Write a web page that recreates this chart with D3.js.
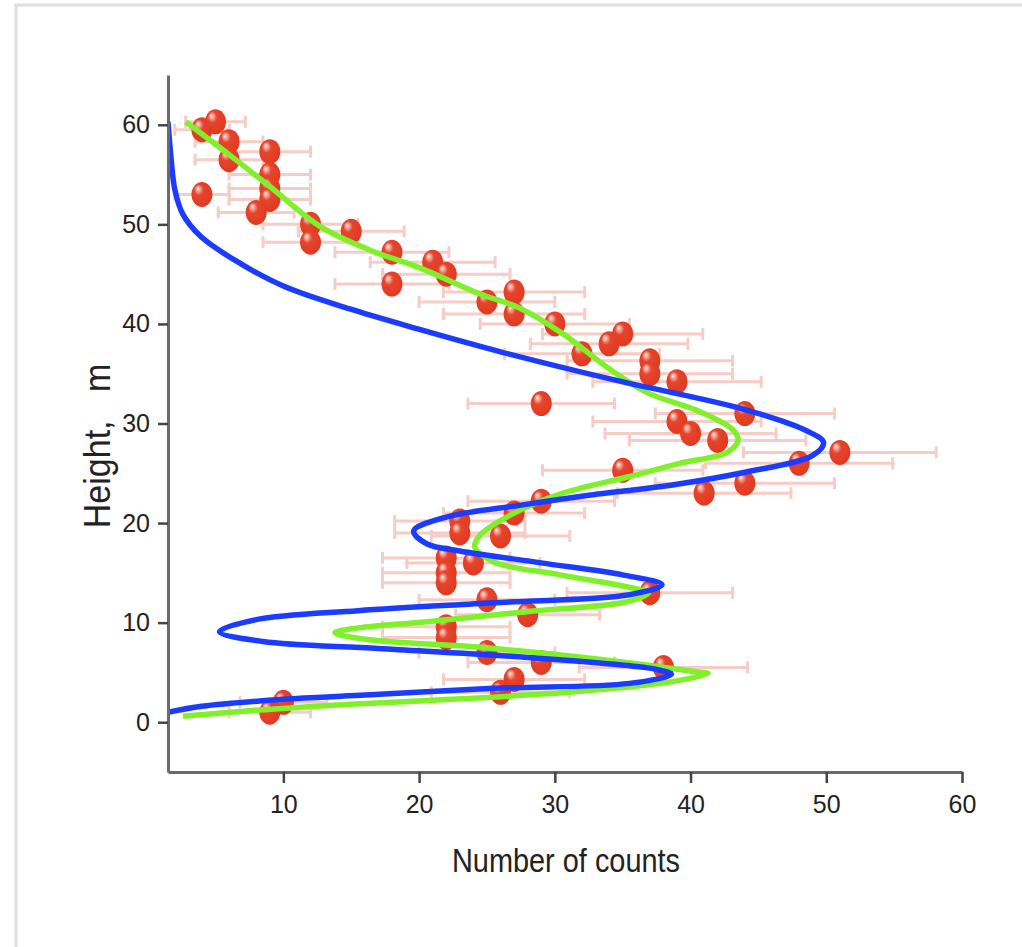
<!DOCTYPE html>
<html>
<head>
<meta charset="utf-8">
<script src="https://cdn.jsdelivr.net/npm/d3@7"></script>
<style>
  body { margin: 0; background: #fff; }
  text { font-family: "Liberation Sans", Arial, sans-serif; fill: #222; }
</style>
</head>
<body>
<script>
let w = 1022;
let h = 947;

// measured counts (x) at each height (y), with horizontal error
const counts = [4, 5, 6, 6, 9, 9, 9, 9, 4, 8, 12, 12, 15, 18, 18, 21, 22, 25, 27, 27,
  30, 32, 34, 35, 37, 37, 39, 29, 44, 39, 40, 42, 51, 48, 35, 44, 41, 29, 27, 23,
  23, 26, 22, 22, 22, 24, 25, 28, 37, 22, 22, 25, 29, 38, 27, 26, 9, 10];
const heights = [59.5, 60.3, 58.3, 56.5, 57.3, 55, 53.6, 52.5, 53, 51.2, 50, 48.2, 49.3, 47.2, 44, 46.2, 45, 42.2, 43.2, 41,
  40, 37, 38, 39, 36.3, 35, 34.2, 32, 31, 30.2, 29, 28.3, 27.1, 26, 25.3, 24, 23, 22.2, 21, 20.2,
  19, 18.7, 16.5, 15, 14, 16, 12.3, 10.8, 13, 9.6, 8.5, 7, 6, 5.5, 4.3, 3, 1, 2];
const errs = [2, 2.2, 2.5, 2.5, 3, 3, 3, 3, 2, 2.8, 3.5, 3.5, 3.9, 4.2, 4.2, 4.6, 4.7, 5, 5.2, 5.2,
  5.5, 5.7, 5.8, 5.9, 6.1, 6.1, 6.2, 5.4, 6.6, 6.2, 6.3, 6.5, 7.1, 6.9, 5.9, 6.6, 6.4, 5.4, 5.2, 4.8,
  4.8, 5.1, 4.7, 4.7, 4.7, 4.9, 5, 5.3, 6.1, 4.7, 4.7, 5, 5.4, 6.2, 5.2, 5.1, 3, 3.2];

// blue model curve [counts, height]
const blueFit = [[1.5, 60.3], [1.7, 57], [2, 53.5], [2.6, 51], [3.9, 48.8], [6.3, 46.5], [10, 43.8],
  [14.9, 41.5], [19.9, 39.5], [26, 37.2], [34.3, 34.4], [44, 31.4], [48.5, 29.3], [49.8, 28.1],
  [49, 26.8], [44, 25.1], [39, 23.9], [32, 22.7], [27.5, 21.8], [22, 20.6], [19.6, 19.2],
  [20.6, 17.9], [23, 17.2], [29, 16], [35, 14.8], [37.9, 13.8], [35.5, 12.8], [25.5, 12],
  [15.5, 11.2], [8, 10.3], [5.3, 9.1], [8.5, 8.1], [17, 7.4], [28, 6.5], [37.5, 5.3], [38.6, 4.8],
  [35.5, 3.9], [25.5, 3.4], [15.7, 2.7], [10, 2.3], [4, 1.6], [1.5, 1]];

// green fit curve [counts, height]
const greenFit = [[2.8, 60.3], [6, 57], [9, 53.8], [12.7, 49.8], [16.4, 47.4], [20.1, 45.6], [24.5, 43],
  [27.4, 41.6], [30.6, 39], [33.8, 35.7], [36.8, 33.1], [40.5, 31.3], [43.1, 29.4], [43.5, 28.3],
  [42.7, 27.1], [39.2, 26], [35.6, 24.7], [30.6, 23], [27, 21], [24.5, 18.8], [24.1, 17.6],
  [25.5, 16.1], [30.4, 14.8], [35.3, 13.6], [36.9, 13], [35.3, 12.1], [27.9, 11.1], [20.6, 10.1],
  [15.7, 9.5], [13.8, 9], [16.2, 8.3], [24.7, 7.5], [35.3, 6], [40.2, 5.1], [41.3, 4.9],
  [38.3, 4], [30.9, 3], [21.1, 2.2], [14.9, 1.8], [8, 1.2], [2.6, 0.6]];

const xMajor = [10, 20, 30, 40, 50, 60];
const xMinor = [5, 15, 25, 35, 45, 55];
const yMajor = [0, 10, 20, 30, 40, 50, 60];
const yMinor = [5, 15, 25, 35, 45, 55];

let svg = d3.select("body").append("svg").attr("width", w).attr("height", h);

// light frame
svg.append("path").attr("d", "M16,1022 L16,5 L1022,5")
  .attr("fill", "none").attr("stroke", "#dedede").attr("stroke-width", 3);

const x = d3.scaleLinear().domain([1.5, 60]).range([168, 962]);
const y = d3.scaleLinear().domain([-5, 65]).range([772, 75]);

let defs = svg.append("defs");
let grad = defs.append("radialGradient").attr("id", "ball")
  .attr("cx", "45%").attr("cy", "42%").attr("r", "62%")
  .attr("fx", "30%").attr("fy", "26%");
grad.append("stop").attr("offset", "0%").attr("stop-color", "#fdeae6");
grad.append("stop").attr("offset", "16%").attr("stop-color", "#f4a093");
grad.append("stop").attr("offset", "36%").attr("stop-color", "#e6442c");
grad.append("stop").attr("offset", "100%").attr("stop-color", "#e03920");

defs.append("clipPath").attr("id", "plot").append("rect")
  .attr("x", 168).attr("y", 75).attr("width", 794).attr("height", 697);

const pts = counts.map(function (c, i) {
  return { c: c, hgt: heights[i], e: errs[i] };
});

// error bars
let eb = svg.append("g").attr("stroke", "#f6ccc5").attr("stroke-width", 3);
eb.selectAll("line.bar").data(pts).enter().append("line")
  .attr("x1", d => x(d.c - d.e)).attr("x2", d => x(d.c + d.e))
  .attr("y1", d => y(d.hgt)).attr("y2", d => y(d.hgt));
eb.selectAll("line.capl").data(pts).enter().append("line")
  .attr("x1", d => x(d.c - d.e)).attr("x2", d => x(d.c - d.e))
  .attr("y1", d => y(d.hgt) - 6).attr("y2", d => y(d.hgt) + 6);
eb.selectAll("line.capr").data(pts).enter().append("line")
  .attr("x1", d => x(d.c + d.e)).attr("x2", d => x(d.c + d.e))
  .attr("y1", d => y(d.hgt) - 6).attr("y2", d => y(d.hgt) + 6);

// points
svg.append("g").selectAll("ellipse").data(pts).enter().append("ellipse")
  .attr("cx", d => x(d.c)).attr("cy", d => y(d.hgt))
  .attr("rx", 10.5).attr("ry", 12.5)
  .attr("fill", "url(#ball)");

const lineFunc = d3.line()
  .x(d => x(d[0]))
  .y(d => y(d[1]))
  .curve(d3.curveCatmullRom.alpha(0.5));

let curves = svg.append("g").attr("clip-path", "url(#plot)");
curves.append("path").attr("d", lineFunc(greenFit))
  .attr("fill", "none").attr("stroke", "#7ff02a").attr("stroke-width", 5.5)
  .attr("stroke-linejoin", "round");
curves.append("path").attr("d", lineFunc(blueFit))
  .attr("fill", "none").attr("stroke", "#1b3cff").attr("stroke-width", 5.5)
  .attr("stroke-linejoin", "round");

// axes
let xAxis = svg.append("g").attr("transform", "translate(0,772)");
xAxis.call(d3.axisBottom(x).tickValues(xMinor).tickSize(7).tickSizeOuter(0).tickFormat(""));
xAxis.call(d3.axisBottom(x).tickValues(xMajor).tickSize(11).tickSizeOuter(0).tickPadding(12));

let yAxis = svg.append("g").attr("transform", "translate(168,0)");
yAxis.call(d3.axisLeft(y).tickValues(yMinor).tickSize(6).tickSizeOuter(0).tickFormat(""));
yAxis.call(d3.axisLeft(y).tickValues(yMajor).tickSize(10).tickSizeOuter(0).tickPadding(8));

svg.selectAll(".domain").attr("stroke", "#6a6a6a").attr("stroke-width", 3);
svg.selectAll(".tick line").attr("stroke", "#444").attr("stroke-width", 2.5);
svg.selectAll(".tick text").attr("font-size", "25px").attr("fill", "#222")
  .attr("font-family", "'Liberation Sans', Arial, sans-serif");

// titles
svg.append("text").text("Number of counts")
  .attr("transform", "translate(566,872) scale(0.85,1)")
  .attr("text-anchor", "middle")
  .attr("font-size", "34px");

svg.append("text").text("Height,   m")
  .attr("transform", "translate(110,446) rotate(-90) scale(0.92,1)")
  .attr("text-anchor", "middle")
  .attr("font-size", "37px")
  .style("white-space", "pre");
</script>
</body>
</html>
